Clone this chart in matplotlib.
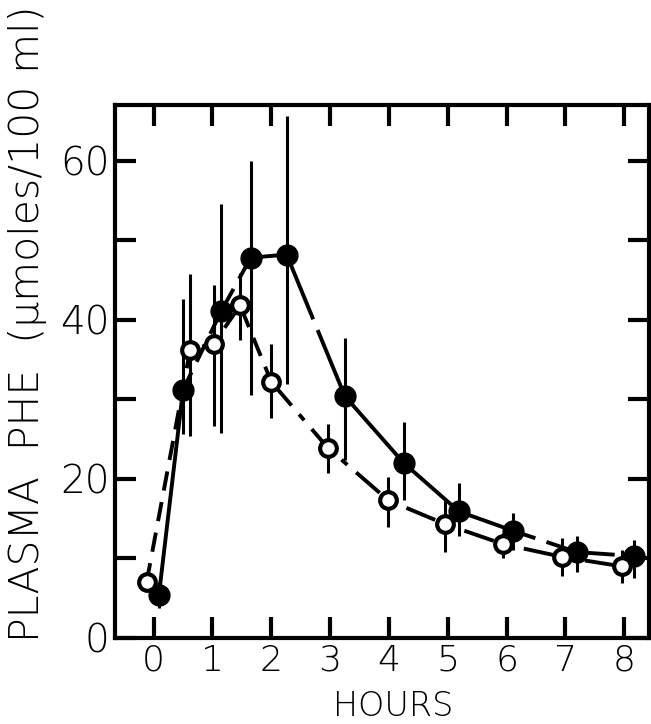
import matplotlib.pyplot as plt

# filled circles
hours_filled = [0.09, 0.50, 1.15, 1.65, 2.26, 3.25, 4.25, 5.19, 6.10, 7.19, 8.16]
phe_filled = [5.4, 31.2, 41.1, 47.8, 48.2, 30.4, 22.0, 15.9, 13.5, 10.8, 10.3]
filled_lo = [3.8, 25.6, 25.8, 30.5, 31.9, 22.4, 17.3, 12.8, 11.0, 8.3, 7.6]
filled_hi = [7.0, 42.6, 54.6, 60.0, 65.6, 37.7, 27.1, 19.5, 15.7, 12.8, 12.3]

# open circles
hours_open = [-0.12, 0.62, 1.02, 1.47, 2.00, 2.96, 3.99, 4.96, 5.94, 6.94, 7.96]
phe_open = [7.0, 36.2, 37.0, 41.8, 32.2, 23.9, 17.3, 14.3, 11.8, 10.2, 9.0]
open_lo = [6.0, 25.4, 26.7, 37.5, 27.6, 20.8, 13.9, 10.8, 10.1, 7.8, 6.9]
open_hi = [8.0, 45.7, 44.4, 45.9, 37.0, 26.9, 20.2, 17.5, 13.2, 12.6, 11.0]

x_ticks = [0, 1, 2, 3, 4, 5, 6, 7, 8]
y_ticks = [0, 20, 40, 60]
y_minor = [10, 30, 50]

FONT = "DejaVu Sans"
fig = plt.figure(figsize=(6.51, 7.24), dpi=100)
ax = fig.add_axes([0.1767, 0.1188, 0.8203, 0.7362])

# error bars
ax.vlines(hours_filled, filled_lo, filled_hi, color="black", lw=2.2, zorder=2)
ax.vlines(hours_open, open_lo, open_hi, color="black", lw=2.2, zorder=2)

# filled series: solid start, dashed around the peak, long dashes after
ax.plot(hours_filled[:2], phe_filled[:2], color="black", lw=2.8, zorder=2)
ax.plot(hours_filled[1:5], phe_filled[1:5], color="black", lw=2.8,
        ls=(0, (5, 3)), zorder=2)
ax.plot(hours_filled[4:], phe_filled[4:], color="black", lw=2.8,
        ls=(0, (18, 3)), zorder=2)

# open series: dashed rise, dash-dot fall
ax.plot(hours_open[:5], phe_open[:5], color="black", lw=2.8,
        ls=(0, (5, 3)), zorder=2)
ax.plot(hours_open[4:], phe_open[4:], color="black", lw=2.8,
        ls=(0, (8, 3, 2, 3)), zorder=2)

ax.plot(hours_filled, phe_filled, "o", ms=15, mfc="black", mec="black",
        ls="none", zorder=4)
ax.plot(hours_open, phe_open, "o", ms=12, mfc="white", mec="black",
        mew=3, ls="none", zorder=5)

ax.set_xlim(-0.656, 8.42)
ax.set_ylim(0, 67.0)
ax.set_xticks(x_ticks)
ax.set_yticks(y_ticks)
ax.set_yticks(y_minor, minor=True)
ax.tick_params(which="both", direction="in", top=True, right=True,
               length=15, width=3)
ax.tick_params(axis="x", pad=4, labelsize=26)
ax.tick_params(axis="y", pad=4, labelsize=28)
for spine in ax.spines.values():
    spine.set_linewidth(3)

for label in ax.get_xticklabels() + ax.get_yticklabels():
    label.set_fontfamily(FONT)
    label.set_fontweight("light")

fig.text(0.604, 0.002, "HOURS", ha="center", va="bottom", fontsize=24,
         family=FONT, fontweight="light")
fig.text(0.043, 0.553, "PLASMA  PHE  (\u00b5moles/100 ml)", rotation=90,
         ha="center", va="center", fontsize=29.5, family=FONT,
         fontweight="light")

fig.savefig("out.png", dpi=100)
